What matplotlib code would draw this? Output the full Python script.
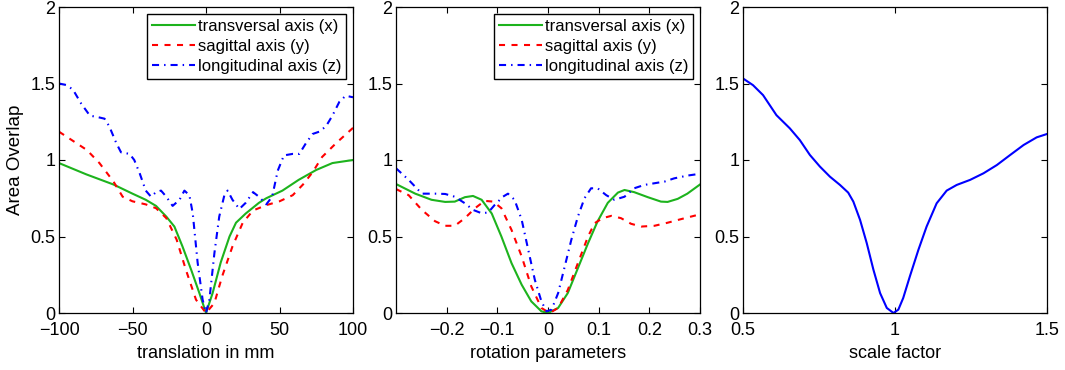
import matplotlib
matplotlib.use("Agg")
import matplotlib.pyplot as plt

plt.rcParams['font.family'] = ['Liberation Sans', 'DejaVu Sans']
plt.rcParams['font.size'] = 13

# ---- Panel 1: translation ----
trans_x_green = [-100, -81.4, -63, -50, -41, -34, -27, -21.5, -16, -10, -4.5, 0,
                 4.5, 10, 16, 20.4, 27, 36, 41, 52, 63, 75, 86, 100]
trans_green = [0.98, 0.906, 0.84, 0.78, 0.74, 0.70, 0.63, 0.565, 0.435, 0.28, 0.13, 0.0,
               0.13, 0.33, 0.50, 0.59, 0.65, 0.72, 0.75, 0.80, 0.87, 0.935, 0.98, 1.0]

trans_x_red = [-100, -81, -72.5, -63, -56.7, -50, -41, -34, -27, -20, -13.6, -6.8, 0,
               5.7, 11, 18, 25, 32, 41, 50, 59, 66, 72.5, 79, 88.5, 100]
trans_red = [1.185, 1.065, 0.98, 0.86, 0.76, 0.73, 0.71, 0.685, 0.62, 0.48, 0.28, 0.087, 0.0,
             0.065, 0.24, 0.435, 0.59, 0.67, 0.705, 0.73, 0.77, 0.84, 0.92, 1.02, 1.11, 1.21]

trans_x_blue = [-100, -95, -90.5, -85, -79, -73.5, -69, -65.8, -61, -57.8, -52, -48.8, -45,
                -41, -37.4, -34, -30.6, -27, -22.7, -18, -14.7, -11.3, -9, -5.7, -2.3, 0,
                2.3, 5.7, 9, 12.5, 14.7, 18, 22.7, 27, 32, 36, 41, 45, 48.8, 53, 59, 63.5,
                68, 72.5, 77, 81.6, 86, 90.7, 95, 100]
trans_blue = [1.50, 1.49, 1.46, 1.37, 1.29, 1.28, 1.27, 1.22, 1.11, 1.05, 1.04, 1.00, 0.91,
              0.80, 0.76, 0.79, 0.80, 0.76, 0.70, 0.74, 0.80, 0.77, 0.65, 0.33, 0.087, 0.0,
              0.087, 0.39, 0.63, 0.77, 0.80, 0.74, 0.68, 0.72, 0.79, 0.76, 0.71, 0.76, 0.93,
              1.03, 1.04, 1.04, 1.11, 1.17, 1.185, 1.22, 1.29, 1.38, 1.42, 1.41]

# ---- Panel 2: rotation ----
rot_x_green = [-0.3, -0.262, -0.23, -0.203, -0.184, -0.164, -0.148, -0.131, -0.111, -0.092,
               -0.072, -0.052, -0.033, -0.013, 0.0, 0.02, 0.039, 0.059, 0.079, 0.098, 0.118,
               0.138, 0.151, 0.170, 0.197, 0.223, 0.236, 0.256, 0.275, 0.3]
rot_green = [0.843, 0.78, 0.74, 0.726, 0.728, 0.757, 0.765, 0.74, 0.65, 0.50,
             0.326, 0.185, 0.076, 0.011, 0.0, 0.033, 0.13, 0.293, 0.456, 0.60, 0.72,
             0.787, 0.804, 0.79, 0.757, 0.728, 0.726, 0.746, 0.78, 0.84]

rot_x_red = [-0.3, -0.275, -0.249, -0.223, -0.203, -0.184, -0.164, -0.144, -0.125, -0.108,
             -0.092, -0.072, -0.052, -0.033, -0.013, 0.003, 0.02, 0.039, 0.059, 0.079, 0.092,
             0.108, 0.125, 0.144, 0.164, 0.184, 0.21, 0.236, 0.262, 0.3]
rot_red = [0.81, 0.77, 0.674, 0.60, 0.57, 0.57, 0.62, 0.685, 0.733, 0.728,
           0.685, 0.543, 0.37, 0.174, 0.033, 0.0, 0.033, 0.15, 0.326, 0.50, 0.587,
           0.62, 0.635, 0.62, 0.583, 0.565, 0.57, 0.59, 0.613, 0.645]

rot_x_blue = [-0.3, -0.275, -0.249, -0.223, -0.203, -0.184, -0.164, -0.148, -0.131, -0.118,
              -0.105, -0.089, -0.079, -0.066, -0.052, -0.039, -0.026, -0.013, -0.003, 0.007,
              0.02, 0.033, 0.046, 0.059, 0.072, 0.085, 0.098, 0.115, 0.131, 0.151, 0.170,
              0.190, 0.21, 0.23, 0.249, 0.275, 0.3]
rot_blue = [0.946, 0.87, 0.78, 0.78, 0.778, 0.76, 0.717, 0.674, 0.652, 0.657,
            0.707, 0.76, 0.78, 0.74, 0.61, 0.413, 0.217, 0.076, 0.011, 0.022,
            0.13, 0.304, 0.478, 0.63, 0.75, 0.815, 0.815, 0.77, 0.74, 0.76, 0.815,
            0.837, 0.848, 0.859, 0.88, 0.898, 0.91]

# ---- Panel 3: scale ----
scale_x = [0.5, 0.533, 0.566, 0.61, 0.654, 0.687, 0.72, 0.753, 0.786, 0.819, 0.846, 0.863,
           0.885, 0.907, 0.929, 0.951, 0.973, 0.995, 1.011, 1.027, 1.049, 1.077, 1.104,
           1.137, 1.17, 1.203, 1.247, 1.291, 1.335, 1.379, 1.423, 1.466, 1.5]
scale_y = [1.533, 1.489, 1.424, 1.293, 1.207, 1.13, 1.033, 0.957, 0.891, 0.837, 0.787, 0.728,
           0.609, 0.457, 0.283, 0.13, 0.033, 0.0, 0.022, 0.098, 0.24, 0.413, 0.565,
           0.717, 0.80, 0.837, 0.87, 0.913, 0.967, 1.033, 1.098, 1.148, 1.17]

labels = ['transversal axis (x)', 'sagittal axis (y)', 'longitudinal axis (z)']
yticks = [0, 0.5, 1, 1.5, 2]
ytick_labels = ['0', '0.5', '1', '1.5', '2']
trans_ticks = [-100, -50, 0, 50, 100]
trans_tick_labels = ['\u2212100', '\u221250', '0', '50', '100']
rot_ticks = [-0.2, -0.1, 0, 0.1, 0.2, 0.3]
rot_tick_labels = ['\u22120.2', '\u22120.1', '0', '0.1', '0.2', '0.3']
scale_ticks = [0.5, 1, 1.5]
scale_tick_labels = ['0.5', '1', '1.5']

GREEN = '#1db31d'
RED = '#ff0000'
BLUE = '#0000ff'
LW = 1.5
DASH = (2.9, 3.1)
DASHDOT = (3.4, 2.4, 0.7, 2.4)

fig = plt.figure(figsize=(10.65, 3.7), dpi=100)
ax1 = fig.add_axes([59/1065, 57/370, 294/1065, 306/370])
ax2 = fig.add_axes([396/1065, 57/370, 304/1065, 306/370])
ax3 = fig.add_axes([743/1065, 57/370, 304/1065, 306/370])

def style(ax):
    ax.set_ylim(0, 2)
    ax.set_yticks(yticks)
    ax.set_yticklabels(ytick_labels)
    ax.tick_params(direction='in', top=True, right=True, length=4, width=0.8,
                   labelsize=13)
    ax.tick_params(axis='x', pad=6.5)
    ax.tick_params(axis='y', pad=2.5)
    for s in ax.spines.values():
        s.set_linewidth(0.9)

def legend(ax):
    ax.legend(loc='upper right', fancybox=False, edgecolor='black', framealpha=1,
              fontsize=12, handlelength=2.6, handletextpad=0.15, labelspacing=0.3,
              borderpad=0.3, borderaxespad=0.4)

def plot3(ax, xg, g, xr, r, xb, b):
    ax.plot(xg, g, color=GREEN, lw=LW, ls='-', label=labels[0])
    ax.plot(xr, r, color=RED, lw=LW, dashes=DASH, label=labels[1])
    ax.plot(xb, b, color=BLUE, lw=LW, dashes=DASHDOT, label=labels[2])

plot3(ax1, trans_x_green, trans_green, trans_x_red, trans_red, trans_x_blue, trans_blue)
ax1.set_xlim(-100, 100)
ax1.set_xticks(trans_ticks)
ax1.set_xticklabels(trans_tick_labels)
ax1.set_xlabel('translation in mm', fontsize=13, labelpad=4)
ax1.set_ylabel('Area Overlap', fontsize=13.5, labelpad=5)
style(ax1)
legend(ax1)

plot3(ax2, rot_x_green, rot_green, rot_x_red, rot_red, rot_x_blue, rot_blue)
ax2.set_xlim(-0.3, 0.3)
ax2.set_xticks(rot_ticks)
ax2.set_xticklabels(rot_tick_labels)
ax2.set_xlabel('rotation parameters', fontsize=13, labelpad=4)
style(ax2)
legend(ax2)

ax3.plot(scale_x, scale_y, color=BLUE, lw=LW, ls='-')
ax3.set_xlim(0.5, 1.5)
ax3.set_xticks(scale_ticks)
ax3.set_xticklabels(scale_tick_labels)
ax3.set_xlabel('scale factor', fontsize=13, labelpad=4)
style(ax3)

fig.savefig('out.png', dpi=100)
